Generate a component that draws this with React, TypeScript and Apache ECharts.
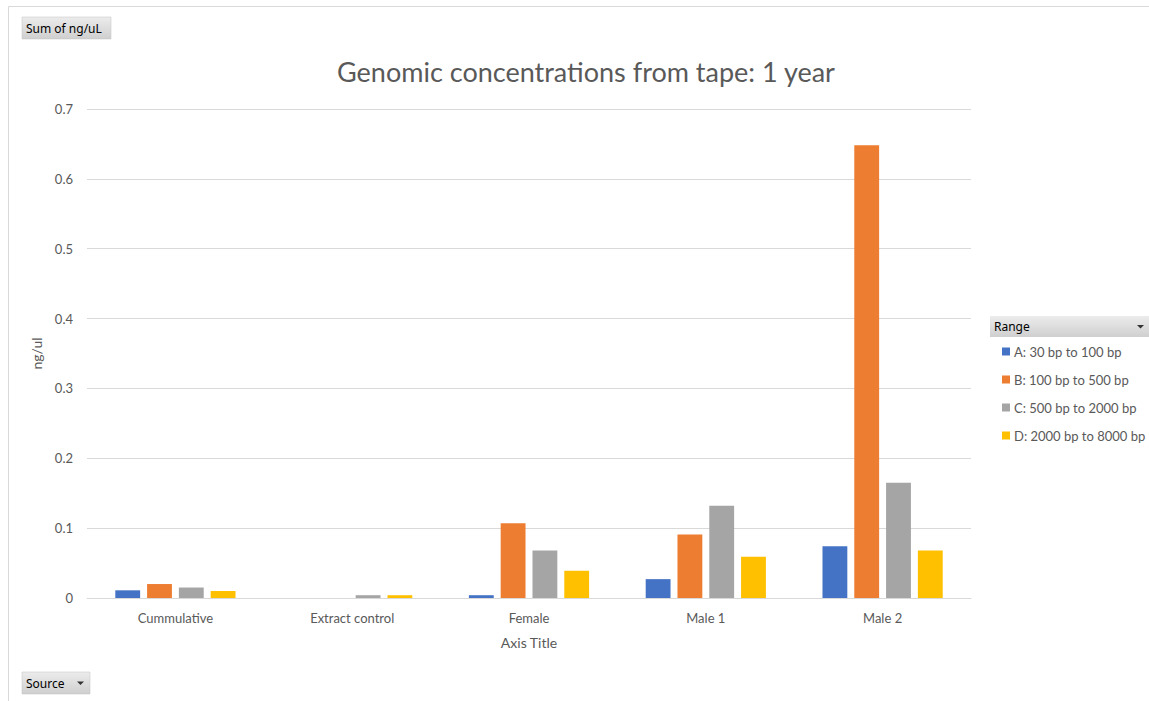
import React, { useEffect, useRef } from "react";
import * as echarts from "echarts";

const categories = ["Cummulative", "Extract control", "Female", "Male 1", "Male 2"];
const seriesNames = [
  "A: 30 bp to 100 bp",
  "B: 100 bp to 500 bp",
  "C: 500 bp to 2000 bp",
  "D: 2000 bp to 8000 bp",
];
const rangeA = [0.011, null, 0.004, 0.027, 0.074];
const rangeB = [0.02, null, 0.107, 0.091, 0.648];
const rangeC = [0.015, 0.004, 0.068, 0.132, 0.165];
const rangeD = [0.01, 0.004, 0.039, 0.059, 0.068];
const colors = ["#4472C4", "#ED7D31", "#A5A5A5", "#FFC000"];
const titleText = "Genomic concentrations from tape: 1 year";

const FONT = "Lato, 'Noto Sans', sans-serif";
const BTN_FONT = "'Noto Sans', 'DejaVu Sans', sans-serif";

const btnFill = new echarts.graphic.LinearGradient(0, 0, 0, 1, [
  { offset: 0, color: "#ececec" },
  { offset: 1, color: "#cfcfcf" },
]);

export default function App() {
  const ref = useRef<HTMLDivElement>(null);
  useEffect(() => {
    if (!ref.current) return;
    const chart = echarts.init(ref.current, null, { renderer: "svg" });
    const data = [rangeA, rangeB, rangeC, rangeD];
    chart.setOption({
      animation: false,
      backgroundColor: "#ffffff",
      color: colors,
      grid: { left: 87, right: 178, top: 109, bottom: 103, containLabel: false },
      legend: {
        orient: "vertical",
        left: 997,
        top: 340,
        icon: "rect",
        itemWidth: 8,
        itemHeight: 8,
        itemGap: 15,
        selectedMode: false,
        textStyle: { fontFamily: FONT, fontSize: 13, color: "#595959", padding: [0, 0, 0, -1] },
        data: seriesNames,
      },
      xAxis: {
        type: "category",
        data: categories,
        name: "Axis Title",
        nameLocation: "middle",
        nameGap: 37,
        nameTextStyle: { fontFamily: FONT, fontSize: 14, color: "#595959" },
        axisLine: { lineStyle: { color: "#d9d9d9", width: 1 } },
        axisTick: { show: false },
        axisLabel: { fontFamily: FONT, fontSize: 13, color: "#595959", margin: 13 },
      },
      yAxis: {
        type: "value",
        min: 0,
        max: 0.7,
        interval: 0.1,
        name: "ng/ul",
        nameLocation: "middle",
        nameGap: 36,
        nameTextStyle: { fontFamily: FONT, fontSize: 14, color: "#595959" },
        axisLine: { show: false },
        axisTick: { show: false },
        splitLine: { lineStyle: { color: "#d9d9d9", width: 1 } },
        axisLabel: {
          fontFamily: FONT,
          fontSize: 13,
          color: "#595959",
          margin: 14,
          formatter: (v: number) => String(Math.round(v * 10) / 10),
        },
      },
      series: seriesNames.map((name, i) => ({
        name,
        type: "bar",
        data: data[i],
        barGap: "28%",
        barCategoryGap: "32%",
        itemStyle: { color: colors[i] },
      })),
      graphic: [
        {
          type: "polyline",
          silent: true,
          shape: { points: [[8.5, 701], [8.5, 6.5], [1149, 6.5]] },
          style: { stroke: "#d9d9d9", lineWidth: 1, fill: null },
        },
        {
          type: "text",
          x: 586,
          y: 71,
          style: {
            text: titleText,
            fontFamily: FONT,
            fontSize: 27,
            fill: "#595959",
            textAlign: "center",
            textVerticalAlign: "middle",
          },
        },
        {
          type: "group",
          x: 22,
          y: 17,
          children: [
            { type: "rect", shape: { x: 0, y: 0, width: 89, height: 22 }, style: { fill: btnFill, stroke: "#c0c0c0", lineWidth: 0.5 } },
            { type: "text", x: 4, y: 11, style: { text: "Sum of ng/uL", fontFamily: BTN_FONT, fontSize: 12, fill: "#000000", textVerticalAlign: "middle" } },
          ],
        },
        {
          type: "group",
          x: 22,
          y: 672,
          children: [
            { type: "rect", shape: { x: 0, y: 0, width: 68, height: 22 }, style: { fill: btnFill, stroke: "#c0c0c0", lineWidth: 0.5 } },
            { type: "text", x: 4, y: 11, style: { text: "Source", fontFamily: BTN_FONT, fontSize: 12, fill: "#000000", textVerticalAlign: "middle" } },
            { type: "polygon", shape: { points: [[55, 9.5], [62, 9.5], [58.5, 13]] }, style: { fill: "#333333" } },
          ],
        },
        {
          type: "group",
          x: 990,
          y: 316,
          children: [
            { type: "rect", shape: { x: 0, y: 0, width: 159, height: 21 }, style: { fill: btnFill } },
            { type: "text", x: 4, y: 10.5, style: { text: "Range", fontFamily: BTN_FONT, fontSize: 12, fill: "#000000", textVerticalAlign: "middle" } },
            { type: "polygon", shape: { points: [[147, 9], [154, 9], [150.5, 12.5]] }, style: { fill: "#333333" } },
          ],
        },
      ],
    });
    return () => chart.dispose();
  }, []);
  return (
    <div
      ref={ref}
      style={{ position: "fixed", left: 0, top: 0, width: 1149, height: 701 }}
    />
  );
}
